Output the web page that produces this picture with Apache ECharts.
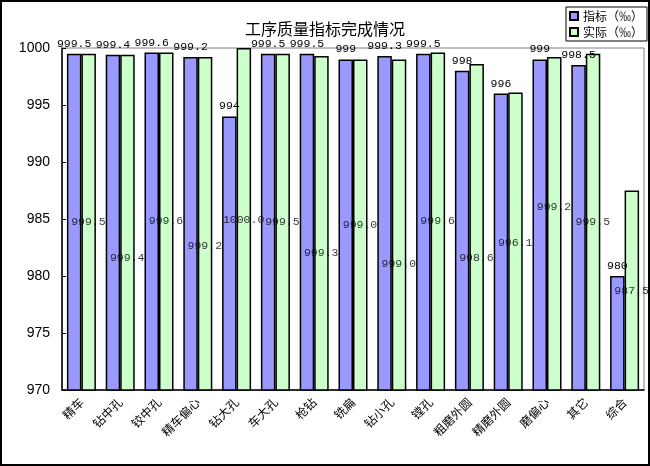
<!DOCTYPE html>
<html>
<head>
<meta charset="utf-8">
<script src="https://cdn.jsdelivr.net/npm/echarts@6/dist/echarts.min.js"></script>
<style>
  html, body { margin: 0; padding: 0; background: #fff; }
  #main { width: 646px; height: 462px; border: 2px solid #000; }
</style>
</head>
<body>
<div id="main"></div>
<script>
var categories = ['精车', '钻中孔', '铰中孔', '精车偏心', '钻大孔', '车大孔', '枪钻', '铣扁', '钻小孔', '镗孔', '粗磨外圆', '精磨外圆', '磨偏心', '其它', '综合'];
var targetValues = [999.5, 999.4, 999.6, 999.2, 994, 999.5, 999.5, 999, 999.3, 999.5, 998, 996, 999, 998.5, 980];
var actualValues = [999.5, 999.4, 999.6, 999.2, 1000.0, 999.5, 999.3, 999.0, 999.0, 999.6, 998.6, 996.1, 999.2, 999.5, 987.5];
// where the labels of the green bars sit in the picture (they float mid-chart)
var actualLabelAt = [984.7, 981.6, 984.8, 982.6, 984.9, 984.7, 982.0, 984.5, 981.1, 984.8, 981.6, 982.9, 986.1, 984.7, 978.7];
var yTicks = { min: 970, max: 1000, interval: 5 };

var myChart = echarts.init(document.getElementById('main'));
var numFont = 'Liberation Mono';
var cjkFont = '"Noto Sans CJK SC"';

var labelPoints = [];
for (var i = 0; i < categories.length; i++) {
    labelPoints.push([categories[i], actualLabelAt[i], actualValues[i]]);
}

var option = {
    animation: false,
    title: {
        text: '工序质量指标完成情况',
        left: 'center',
        top: 14,
        textStyle: { fontFamily: cjkFont, fontSize: 16, fontWeight: 'normal', color: '#000' }
    },
    legend: {
        data: ['指标（‰）', '实际（‰）'],
        orient: 'vertical',
        right: 1,
        top: 5,
        itemWidth: 8,
        itemHeight: 8,
        itemGap: 4,
        padding: [3, 4, 3, 3],
        borderColor: '#000',
        borderWidth: 1,
        icon: 'rect',
        textStyle: { fontFamily: cjkFont, fontSize: 12, color: '#000' }
    },
    grid: {
        left: 60, right: 4, top: 46, bottom: 74,
        show: true, borderColor: '#808080', borderWidth: 1
    },
    xAxis: {
        type: 'category',
        data: categories,
        axisLine: { lineStyle: { color: '#000', width: 1.5 } },
        axisTick: { inside: true, length: 4, lineStyle: { color: '#000' } },
        axisLabel: {
            rotate: 45, margin: 10, interval: 0,
            fontFamily: cjkFont, fontSize: 12, color: '#000'
        }
    },
    yAxis: {
        type: 'value',
        min: yTicks.min, max: yTicks.max, interval: yTicks.interval,
        axisLine: { show: true, lineStyle: { color: '#000', width: 1.5 } },
        axisTick: { show: true, inside: true, length: 4, lineStyle: { color: '#000' } },
        splitLine: { show: false },
        axisLabel: {
            fontFamily: 'Liberation Sans', fontSize: 14, color: '#000', margin: 12,
            formatter: function (v) { return String(v); }
        }
    },
    series: [
        {
            name: '指标（‰）',
            type: 'bar',
            data: targetValues,
            barWidth: 14.5,
            barGap: '0%',
            itemStyle: { color: '#9999FF', borderColor: '#000', borderWidth: 1.5 },
            label: {
                show: true, position: 'top', distance: 4,
                fontFamily: numFont, fontSize: 11.5, color: '#000'
            }
        },
        {
            name: '实际（‰）',
            type: 'bar',
            data: actualValues,
            barWidth: 14.5,
            itemStyle: { color: '#CCFFCC', borderColor: '#000', borderWidth: 1.5 },
            label: { show: false }
        },
        {
            name: 'actualLabels',
            type: 'scatter',
            data: labelPoints,
            symbolSize: 1,
            itemStyle: { color: 'rgba(0,0,0,0)' },
            z: 5,
            label: {
                show: true, position: 'inside', offset: [7, 0],
                fontFamily: numFont, fontSize: 11.5, color: '#000',
                formatter: function (p) { return p.value[2].toFixed(1); }
            }
        }
    ]
};
myChart.setOption(option);
</script>
</body>
</html>
